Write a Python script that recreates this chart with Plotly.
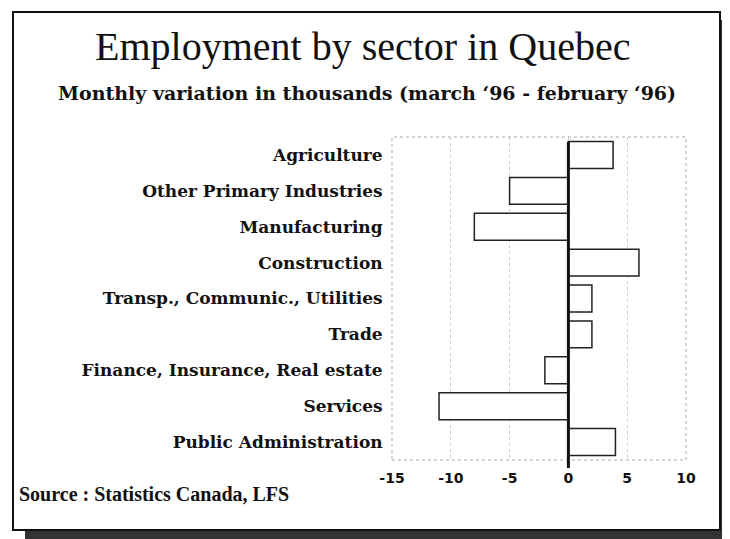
import plotly.graph_objects as go

categories = ["Agriculture", "Other Primary Industries", "Manufacturing", "Construction",
              "Transp., Communic., Utilities", "Trade", "Finance, Insurance, Real estate",
              "Services", "Public Administration"]
values = [3.8, -5, -8, 6, 2, 2, -2, -11, 4]
tick_vals = [-15, -10, -5, 0, 5, 10]
tick_text = ["-15", "-10", "-5", "0", "5", "10"]

OFF = 8  # page body margin
W, H = 730 - OFF, 539 - OFF
L, R, T, B = 392, 686, 137, 460  # page pixel coords of plot area

def px(x):
    return (x - L) / (R - L)

def py(y):
    return (B - y) / (B - T)

fig = go.Figure(go.Bar(
    x=values, y=categories, orientation="h",
    marker=dict(color="white", line=dict(color="#222222", width=1.5)),
    width=0.75,
))

shapes = []
# shadow
shapes.append(dict(type="rect", xref="paper", yref="paper", x0=px(720), x1=px(732), y0=py(541), y1=py(20),
                   fillcolor="#333333", line=dict(width=0), layer="below"))
shapes.append(dict(type="rect", xref="paper", yref="paper", x0=px(25), x1=px(732), y0=py(541), y1=py(530),
                   fillcolor="#333333", line=dict(width=0), layer="below"))
# frame
shapes.append(dict(type="rect", xref="paper", yref="paper", x0=px(13), x1=px(720), y0=py(530), y1=py(12),
                   fillcolor="white", line=dict(color="#111111", width=2), layer="below"))
# plot border
shapes.append(dict(type="rect", xref="paper", yref="paper", x0=0, x1=1, y0=0, y1=1,
                   line=dict(color="#aaaaaa", width=1, dash="dot"), layer="below"))
# zero line
shapes.append(dict(type="line", xref="x", yref="paper", x0=0, x1=0, y0=py(468), y1=py(142),
                   line=dict(color="#111111", width=3)))

fig.update_layout(
    width=W, height=H,
    margin=dict(l=L - OFF, r=730 - R, t=T - OFF, b=539 - B),
    paper_bgcolor="white", plot_bgcolor="rgba(0,0,0,0)",
    showlegend=False,
    shapes=shapes,
    xaxis=dict(range=[-15, 10], tickvals=tick_vals, ticktext=tick_text,
               showgrid=True, gridcolor="#cccccc", griddash="dot", gridwidth=1,
               zeroline=False, showline=False,
               ticks="outside", ticklen=5, tickcolor="rgba(0,0,0,0)",
               tickfont=dict(family="DejaVu Sans", size=14, color="#111111", weight="bold")),
    yaxis=dict(range=[8.5, -0.5], categoryorder="array", categoryarray=categories,
               showgrid=False, zeroline=False, showline=False,
               ticks="outside", ticklen=5, tickcolor="rgba(0,0,0,0)",
               tickfont=dict(family="DejaVu Serif", size=17, color="#111111", weight="bold")),
    annotations=[
        dict(text="Employment by sector in Quebec", xref="paper", yref="paper",
             x=px(362), y=py(47), xanchor="center", yanchor="middle", showarrow=False,
             font=dict(family="Liberation Serif", size=40, color="#111111")),
        dict(text="Monthly variation in thousands (march \u201896 - february \u201896)", xref="paper", yref="paper",
             x=px(367), y=py(93), xanchor="center", yanchor="middle", showarrow=False,
             font=dict(family="DejaVu Serif", size=19, color="#111111", weight="bold")),
        dict(text="Source : Statistics Canada, LFS", xref="paper", yref="paper",
             x=px(17), y=py(494), xanchor="left", yanchor="middle", showarrow=False,
             font=dict(family="Liberation Serif", size=20, color="#111111", weight="bold")),
    ],
)

fig.write_html("out.html")
